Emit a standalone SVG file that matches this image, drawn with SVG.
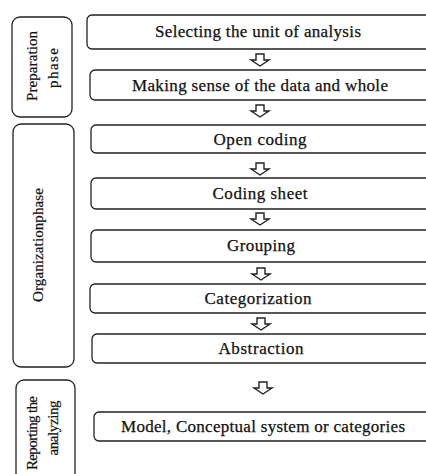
<svg xmlns="http://www.w3.org/2000/svg" width="426" height="474" viewBox="0 0 426 474">
<style>
.box{fill:#fff;stroke:#222;stroke-width:1.3}
.phase{fill:#fff;stroke:#222;stroke-width:1.3}
.t{font-family:"Liberation Serif","DejaVu Serif",serif;font-size:17px;fill:#111;text-anchor:middle;stroke:#111;stroke-width:0.25}
.v{font-family:"Liberation Serif","DejaVu Serif",serif;font-size:15px;fill:#111;text-anchor:middle;stroke:#111;stroke-width:0.2}
.arr{fill:#fff;stroke:#222;stroke-width:1.4;stroke-linejoin:miter}
</style>
<defs>
<path id="ar" d="M-4,0 H4 V6 H9 L0,12 L-9,6 H-4 Z"/>
</defs>
<rect width="426" height="474" fill="#fff"/>

<g id="phase-preparation">
<rect class="phase" x="12" y="17" width="60" height="100" rx="8"/>
<text class="v" transform="translate(37,66) rotate(-90)" textLength="70">Preparation</text>
<text class="v" transform="translate(58,68) rotate(-90)" textLength="40">phase</text>
</g>
<g id="phase-organization">
<rect class="phase" x="13" y="124" width="61" height="243" rx="8"/>
<text class="v" transform="translate(43,245) rotate(-90)" textLength="114">Organizationphase</text>
</g>
<g id="phase-reporting">
<rect class="phase" x="16" y="380" width="59" height="110" rx="8"/>
<text class="v" transform="translate(37,433) rotate(-90)" textLength="74">Reporting the</text>
<text class="v" transform="translate(58,428) rotate(-90)" textLength="55">analyzing</text>
</g>

<g id="n1">
<rect class="box" x="87" y="15" width="345" height="34" rx="5"/>
<text class="t" x="258" y="37" textLength="206">Selecting the unit of analysis</text>
</g>
<g id="n2">
<rect class="box" x="90" y="70" width="342" height="30" rx="5"/>
<text class="t" x="260" y="91" textLength="256">Making sense of the data and whole</text>
</g>
<g id="n3">
<rect class="box" x="91" y="125" width="341" height="28" rx="5"/>
<text class="t" x="260" y="145" textLength="93">Open coding</text>
</g>
<g id="n4">
<rect class="box" x="91" y="178" width="341" height="31" rx="5"/>
<text class="t" x="260" y="199" textLength="95">Coding sheet</text>
</g>
<g id="n5">
<rect class="box" x="91" y="230" width="341" height="32" rx="5"/>
<text class="t" x="261" y="251" textLength="68">Grouping</text>
</g>
<g id="n6">
<rect class="box" x="90" y="284" width="342" height="29" rx="5"/>
<text class="t" x="258" y="304" textLength="107">Categorization</text>
</g>
<g id="n7">
<rect class="box" x="92" y="334" width="340" height="29" rx="5"/>
<text class="t" x="261" y="354" textLength="85">Abstraction</text>
</g>
<g id="n8">
<rect class="box" x="94" y="412" width="338" height="29" rx="5"/>
<text class="t" x="263" y="432" textLength="284">Model, Conceptual system or categories</text>
</g>

<g id="connectors">
<use href="#ar" class="arr" x="260" y="54"/>
<use href="#ar" class="arr" x="260" y="105"/>
<use href="#ar" class="arr" x="260" y="163"/>
<use href="#ar" class="arr" x="260" y="213"/>
<use href="#ar" class="arr" x="261" y="268"/>
<use href="#ar" class="arr" x="261" y="318"/>
<use href="#ar" class="arr" x="263" y="382"/>
</g>
</svg>
